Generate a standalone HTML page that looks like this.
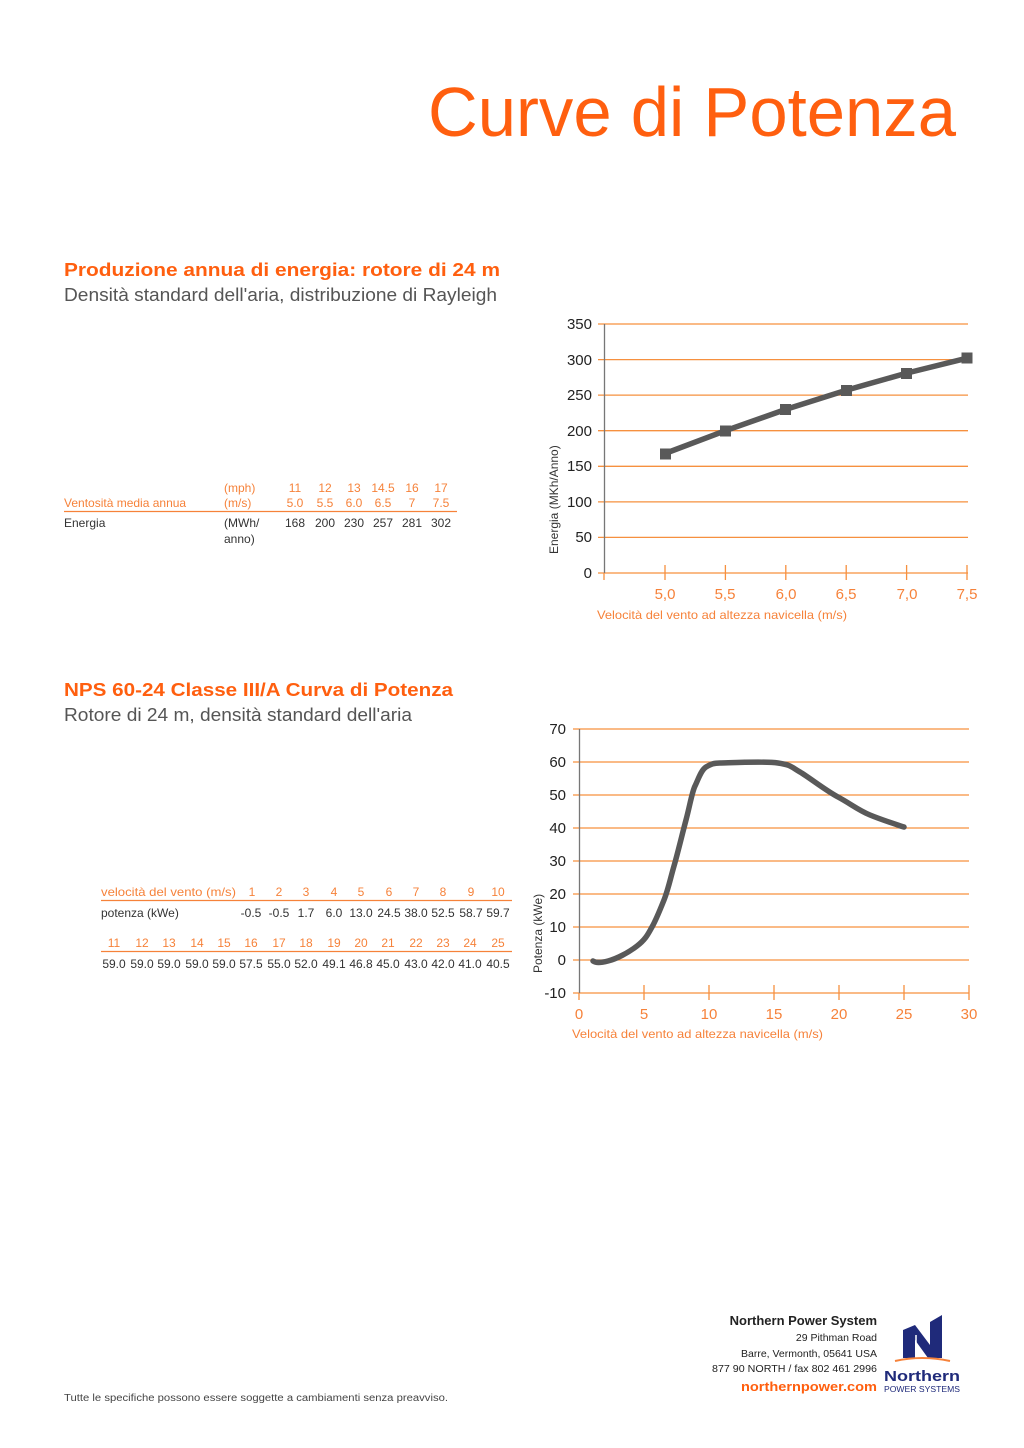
<!DOCTYPE html>
<html><head><meta charset="utf-8"><style>
html,body{margin:0;padding:0;background:#fff}
svg{display:block}
text{font-family:"Liberation Sans",sans-serif}
</style></head><body>
<svg width="1024" height="1448" viewBox="0 0 1024 1448" xmlns="http://www.w3.org/2000/svg">
<text x="428" y="136" font-size="70" fill="#ff5f0f" textLength="528" lengthAdjust="spacingAndGlyphs">Curve di Potenza</text>

<text x="64" y="276" font-size="18" font-weight="bold" fill="#ff5f0f" textLength="436" lengthAdjust="spacingAndGlyphs">Produzione annua di energia: rotore di 24 m</text>
<text x="64" y="301" font-size="18" fill="#555" textLength="433" lengthAdjust="spacingAndGlyphs">Densità standard dell'aria, distribuzione di Rayleigh</text>

<g font-size="12" fill="#f6823a">
<text x="224" y="492">(mph)</text><text x="224" y="507">(m/s)</text>
<text x="64" y="507">Ventosità media annua</text>
<g text-anchor="middle">
<text x="295" y="492">11</text><text x="325" y="492">12</text><text x="354" y="492">13</text><text x="383" y="492">14.5</text><text x="412" y="492">16</text><text x="441" y="492">17</text>
<text x="295" y="507">5.0</text><text x="325" y="507">5.5</text><text x="354" y="507">6.0</text><text x="383" y="507">6.5</text><text x="412" y="507">7</text><text x="441" y="507">7.5</text>
</g></g>
<line x1="64" y1="511.5" x2="457" y2="511.5" stroke="#f6823a" stroke-width="1.2"/>
<g font-size="12" fill="#333">
<text x="64" y="527">Energia</text><text x="224" y="527">(MWh/</text><text x="224" y="543">anno)</text>
<g text-anchor="middle"><text x="295" y="527">168</text><text x="325" y="527">200</text><text x="354" y="527">230</text><text x="383" y="527">257</text><text x="412" y="527">281</text><text x="441" y="527">302</text></g>
</g>

<!-- chart 1 -->
<g stroke="#f6903f" stroke-width="1.3">
<line x1="598" y1="324" x2="968" y2="324"/><line x1="598" y1="359.6" x2="968" y2="359.6"/><line x1="598" y1="395.1" x2="968" y2="395.1"/><line x1="598" y1="430.7" x2="968" y2="430.7"/><line x1="598" y1="466.3" x2="968" y2="466.3"/><line x1="598" y1="501.9" x2="968" y2="501.9"/><line x1="598" y1="537.4" x2="968" y2="537.4"/><line x1="598" y1="573" x2="968" y2="573"/>
<line x1="604" y1="573" x2="604" y2="580"/><line x1="665" y1="565" x2="665" y2="580"/><line x1="725.4" y1="565" x2="725.4" y2="580"/><line x1="785.8" y1="565" x2="785.8" y2="580"/><line x1="846.2" y1="565" x2="846.2" y2="580"/><line x1="906.6" y1="565" x2="906.6" y2="580"/><line x1="967" y1="565" x2="967" y2="580"/>
</g>
<line x1="604.5" y1="324" x2="604.5" y2="573" stroke="#777" stroke-width="1.3"/>
<g font-size="15" fill="#222" text-anchor="end">
<text x="592" y="329">350</text><text x="592" y="365">300</text><text x="592" y="400">250</text><text x="592" y="436">200</text><text x="592" y="471">150</text><text x="592" y="507">100</text><text x="592" y="542">50</text><text x="592" y="578">0</text>
</g>
<text transform="translate(558,554) rotate(-90)" font-size="12" fill="#333">Energia (MKh/Anno)</text>
<g font-size="15" fill="#f6823a" text-anchor="middle">
<text x="665" y="599">5,0</text><text x="725" y="599">5,5</text><text x="786" y="599">6,0</text><text x="846" y="599">6,5</text><text x="907" y="599">7,0</text><text x="967" y="599">7,5</text>
</g>
<text x="597" y="619" font-size="12" fill="#f6823a" textLength="250" lengthAdjust="spacingAndGlyphs">Velocità del vento ad altezza navicella (m/s)</text>
<polyline points="665,453.5 725.4,430.7 785.8,409.4 846.2,390.2 906.6,373.1 967,358.2" fill="none" stroke="#595959" stroke-width="5.5"/>
<g fill="#595959">
<rect x="660" y="448.5" width="11" height="11"/><rect x="720" y="425.5" width="11" height="11"/><rect x="780" y="404" width="11" height="11"/><rect x="841" y="385" width="11" height="11"/><rect x="901" y="368" width="11" height="11"/><rect x="961.5" y="352.5" width="11" height="11"/>
</g>

<text x="64" y="696" font-size="18" font-weight="bold" fill="#ff5f0f" textLength="389" lengthAdjust="spacingAndGlyphs">NPS 60-24 Classe III/A Curva di Potenza</text>
<text x="64" y="721" font-size="18" fill="#555" textLength="348" lengthAdjust="spacingAndGlyphs">Rotore di 24 m, densità standard dell'aria</text>

<g font-size="12" fill="#f6823a" text-anchor="middle">
<text x="101" y="896" text-anchor="start" textLength="135" lengthAdjust="spacingAndGlyphs">velocità del vento (m/s)</text>
<text x="252" y="896">1</text><text x="279" y="896">2</text><text x="306" y="896">3</text><text x="334" y="896">4</text><text x="361" y="896">5</text><text x="389" y="896">6</text><text x="416" y="896">7</text><text x="443" y="896">8</text><text x="471" y="896">9</text><text x="498" y="896">10</text>
<text x="114" y="947">11</text><text x="142" y="947">12</text><text x="169" y="947">13</text><text x="197" y="947">14</text><text x="224" y="947">15</text><text x="251" y="947">16</text><text x="279" y="947">17</text><text x="306" y="947">18</text><text x="334" y="947">19</text><text x="361" y="947">20</text><text x="388" y="947">21</text><text x="416" y="947">22</text><text x="443" y="947">23</text><text x="470" y="947">24</text><text x="498" y="947">25</text>
</g>
<line x1="101" y1="900.5" x2="512" y2="900.5" stroke="#f6823a" stroke-width="1.2"/>
<line x1="101" y1="951.5" x2="512" y2="951.5" stroke="#f6823a" stroke-width="1.2"/>
<g font-size="12" fill="#333" text-anchor="middle">
<text x="101" y="917" text-anchor="start">potenza (kWe)</text>
<text x="251" y="917">-0.5</text><text x="279" y="917">-0.5</text><text x="306" y="917">1.7</text><text x="334" y="917">6.0</text><text x="361" y="917">13.0</text><text x="389" y="917">24.5</text><text x="416" y="917">38.0</text><text x="443" y="917">52.5</text><text x="471" y="917">58.7</text><text x="498" y="917">59.7</text>
<text x="114" y="968">59.0</text><text x="142" y="968">59.0</text><text x="169" y="968">59.0</text><text x="197" y="968">59.0</text><text x="224" y="968">59.0</text><text x="251" y="968">57.5</text><text x="279" y="968">55.0</text><text x="306" y="968">52.0</text><text x="334" y="968">49.1</text><text x="361" y="968">46.8</text><text x="388" y="968">45.0</text><text x="416" y="968">43.0</text><text x="443" y="968">42.0</text><text x="470" y="968">41.0</text><text x="498" y="968">40.5</text>
</g>

<!-- chart 2 -->
<g stroke="#f6903f" stroke-width="1.3">
<line x1="573" y1="729" x2="969" y2="729"/><line x1="573" y1="762" x2="969" y2="762"/><line x1="573" y1="795" x2="969" y2="795"/><line x1="573" y1="828" x2="969" y2="828"/><line x1="573" y1="861" x2="969" y2="861"/><line x1="573" y1="894" x2="969" y2="894"/><line x1="573" y1="927" x2="969" y2="927"/><line x1="573" y1="960" x2="969" y2="960"/><line x1="573" y1="993" x2="969" y2="993"/>
<line x1="644" y1="985" x2="644" y2="1000"/><line x1="709" y1="985" x2="709" y2="1000"/><line x1="774" y1="985" x2="774" y2="1000"/><line x1="839" y1="985" x2="839" y2="1000"/><line x1="904" y1="985" x2="904" y2="1000"/><line x1="969" y1="985" x2="969" y2="1000"/><line x1="579" y1="993" x2="579" y2="1000"/>
</g>
<line x1="579.5" y1="729" x2="579.5" y2="993" stroke="#777" stroke-width="1.3"/>
<g font-size="15" fill="#222" text-anchor="end">
<text x="566" y="734">70</text><text x="566" y="767">60</text><text x="566" y="800">50</text><text x="566" y="833">40</text><text x="566" y="866">30</text><text x="566" y="899">20</text><text x="566" y="932">10</text><text x="566" y="965">0</text><text x="566" y="998">-10</text>
</g>
<text transform="translate(542,973) rotate(-90)" font-size="12" fill="#333">Potenza  (kWe)</text>
<g font-size="15" fill="#f6823a" text-anchor="middle">
<text x="579" y="1019">0</text><text x="644" y="1019">5</text><text x="709" y="1019">10</text><text x="774" y="1019">15</text><text x="839" y="1019">20</text><text x="904" y="1019">25</text><text x="969" y="1019">30</text>
</g>
<text x="572" y="1038" font-size="12" fill="#f6823a" textLength="251" lengthAdjust="spacingAndGlyphs">Velocità del vento ad altezza navicella (m/s)</text>
<path d="M593,961 C596,963 600,963 608,961 S628,953 637,946 S648,934 652,927 S660,910 664,900 S670,880 674,866 S682,835 686,820 S692,792 695,786 S701,770 706,767 S714,763 720,763 S765,761 778,763 S790,766 800,772 S825,790 838,797 S858,810 870,815 S895,824 904,827" fill="none" stroke="#595959" stroke-width="5.5" stroke-linecap="round"/>

<!-- footer -->
<g text-anchor="end" fill="#222">
<text x="877" y="1325" font-size="13" font-weight="bold">Northern Power System</text>
<text x="877" y="1341" font-size="10.5">29 Pithman Road</text>
<text x="877" y="1357" font-size="10.5">Barre, Vermonth, 05641 USA</text>
<text x="877" y="1372" font-size="10.5" textLength="165" lengthAdjust="spacingAndGlyphs">877 90 NORTH / fax 802 461 2996</text>
<text x="877" y="1391" font-size="13" font-weight="bold" fill="#ff5f0f" textLength="136" lengthAdjust="spacingAndGlyphs">northernpower.com</text>
</g>
<polygon points="903,1330 915,1325 930,1345 930,1322 942,1315 942,1358 928,1358 915,1340 915,1358 903,1358" fill="#1f2a7a"/>
<line x1="916" y1="1335" x2="916" y2="1358" stroke="#fff" stroke-width="1.5"/>
<path d="M895,1361 Q922,1355 950,1361" fill="none" stroke="#f6823a" stroke-width="2"/>
<text x="884" y="1381" font-size="15" font-weight="bold" fill="#1f2a7a" textLength="76" lengthAdjust="spacingAndGlyphs">Northern</text>
<text x="884" y="1392" font-size="8" fill="#1f2a7a" textLength="76" lengthAdjust="spacingAndGlyphs">POWER SYSTEMS</text>
<text x="64" y="1401" font-size="10" fill="#444" textLength="384" lengthAdjust="spacingAndGlyphs">Tutte le specifiche possono essere soggette a cambiamenti senza preavviso.</text>
</svg>
</body></html>
